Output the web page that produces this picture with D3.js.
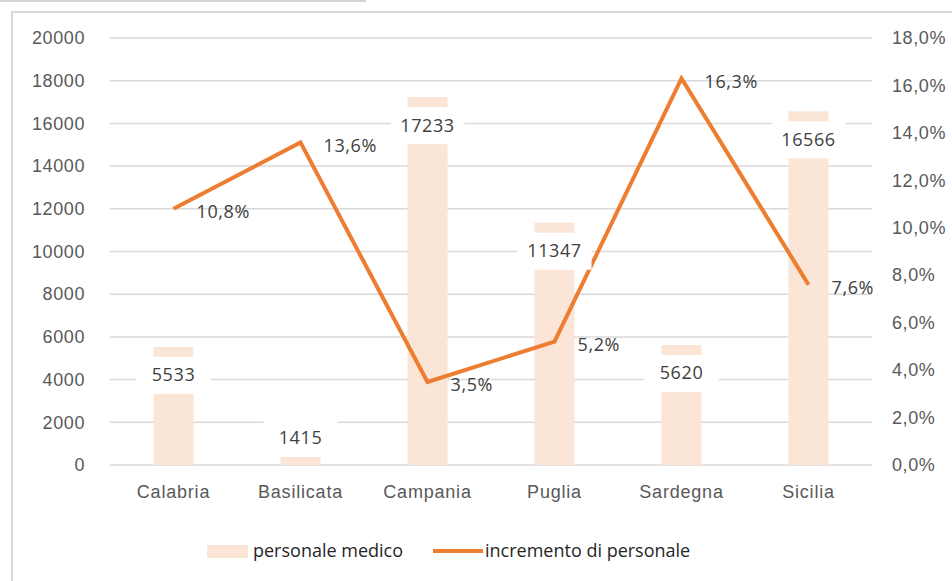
<!DOCTYPE html>
<html>
<head>
<meta charset="utf-8">
<script src="https://cdn.jsdelivr.net/npm/d3@7"></script>
<style>
  body { margin: 0; background: #fff; }
  svg { font-family: "Open Sans", sans-serif; }
  .tick text { fill: #595959; font-size: 18px; letter-spacing: 0.6px; }
</style>
</head>
<body>
<svg width="952" height="581"></svg>
<script>
const regioni = ["Calabria", "Basilicata", "Campania", "Puglia", "Sardegna", "Sicilia"];
const personale = [5533, 1415, 17233, 11347, 5620, 16566];
const incremento = [10.8, 13.6, 3.5, 5.2, 16.3, 7.6];
const ticksSx = [0, 2000, 4000, 6000, 8000, 10000, 12000, 14000, 16000, 18000, 20000];
const ticksDx = [0, 2, 4, 6, 8, 10, 12, 14, 16, 18];

const svg = d3.select("svg");
const mLeft = 110, mRight = 872, mTop = 38, mBottom = 465;

// cornice
svg.append("line").attr("x1", 0).attr("x2", 366).attr("y1", 1).attr("y2", 1)
  .attr("stroke", "#d4d4d4").attr("stroke-width", 2);
svg.append("rect").attr("x", 12).attr("y", 12).attr("width", 980).attr("height", 620)
  .attr("fill", "none").attr("stroke", "#d9d9d9").attr("stroke-width", 2);

const x = d3.scaleBand().domain(regioni).range([mLeft, mRight]).paddingInner(0.685).paddingOuter(0.3425);
const y = d3.scaleLinear().domain([0, 20000]).range([mBottom, mTop]);
const y2 = d3.scaleLinear().domain([0, 18]).range([mBottom, mTop]);
const cx = d => x(d) + x.bandwidth() / 2;
const fmt = v => d3.format(".1f")(v).replace(".", ",") + "%";

// griglia
svg.append("g").selectAll("line").data(ticksSx).join("line")
  .attr("x1", mLeft).attr("x2", mRight)
  .attr("y1", d => y(d)).attr("y2", d => y(d))
  .attr("stroke", "#d9d9d9").attr("stroke-width", 1.5);

// assi
const axL = svg.append("g").attr("transform", `translate(${mLeft},0)`)
  .call(d3.axisLeft(y).tickValues(ticksSx).tickSize(0).tickPadding(25).tickFormat(d3.format("d")));
const axR = svg.append("g").attr("transform", `translate(${mRight},0)`)
  .call(d3.axisRight(y2).tickValues(ticksDx).tickSize(0).tickPadding(20).tickFormat(fmt));
const axB = svg.append("g").attr("transform", `translate(0,${mBottom})`)
  .call(d3.axisBottom(x).tickSize(0).tickPadding(20));
[axL, axR, axB].forEach(a => a.select(".domain").remove());
axB.selectAll(".tick text").attr("fill", "#262626").style("letter-spacing", "0.8px");

// barre
svg.append("g").selectAll("rect").data(regioni).join("rect")
  .attr("x", d => x(d)).attr("width", x.bandwidth())
  .attr("y", (d, i) => y(personale[i]))
  .attr("height", (d, i) => mBottom - y(personale[i]))
  .attr("fill", "#fbe5d6");

// linea
const line = d3.line().x(d => cx(d[0])).y(d => y2(d[1]));
svg.append("path").datum(regioni.map((r, i) => [r, incremento[i]]))
  .attr("d", line).attr("fill", "none")
  .attr("stroke", "#ed7d31").attr("stroke-width", 4).attr("stroke-linejoin", "miter");

// etichette barre (riquadro bianco sopra la linea)
const lblB = svg.append("g").selectAll("g").data(regioni).join("g")
  .attr("transform", (d, i) => {
    let cy = y(personale[i]) + 28;
    cy = Math.min(cy, mBottom - 27);
    return `translate(${cx(d)},${cy})`;
  });
lblB.append("rect").attr("x", -37).attr("y", -18).attr("width", 74).attr("height", 37).attr("fill", "#fff");
lblB.append("text").text((d, i) => personale[i])
  .attr("text-anchor", "middle").attr("dy", "0.36em")
  .attr("fill", "#404040").attr("font-size", 18).style("letter-spacing", "0.6px");

// etichette linea
svg.append("g").selectAll("text").data(regioni).join("text")
  .attr("x", d => cx(d) + 23)
  .attr("y", (d, i) => y2(incremento[i]) + 3)
  .text((d, i) => fmt(incremento[i]))
  .attr("dy", "0.36em").attr("fill", "#404040").attr("font-size", 18).style("letter-spacing", "0.6px");

// legenda
const leg = svg.append("g").attr("font-size", 18).attr("fill", "#262626");
leg.append("rect").attr("x", 207).attr("y", 545).attr("width", 41).attr("height", 13).attr("fill", "#fbe5d6");
leg.append("text").attr("x", 253).attr("y", 551).attr("dy", "0.36em").text("personale medico");
leg.append("line").attr("x1", 433).attr("x2", 483).attr("y1", 551).attr("y2", 551)
  .attr("stroke", "#ed7d31").attr("stroke-width", 4);
leg.append("text").attr("x", 485).attr("y", 551).attr("dy", "0.36em").text("incremento di personale");
</script>
</body>
</html>
